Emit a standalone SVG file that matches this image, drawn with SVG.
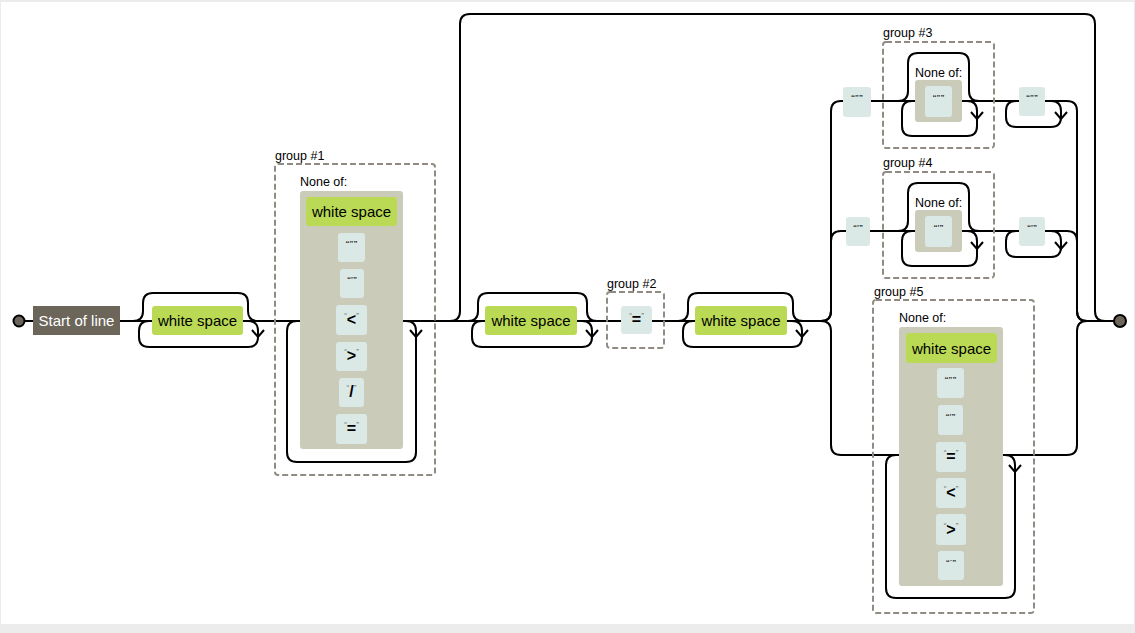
<svg xmlns="http://www.w3.org/2000/svg" xmlns:xlink="http://www.w3.org/1999/xlink" width="1135" height="633" viewBox="0 0 1135 633">
<style>
.ln{fill:none;stroke:#000;stroke-width:2;stroke-linejoin:round}
.grp{fill:none;stroke:#908c83;stroke-width:2;stroke-dasharray:6,3}
.esc{fill:#bada55}
.lit{fill:#dae9e5}
.cc{fill:#cbcbba}
.anc{fill:#6b6659}
.t{font-family:"Liberation Sans",Arial,sans-serif;font-size:15px;fill:#000}
.lbl{font-family:"Liberation Sans",Arial,sans-serif;font-size:12.5px;fill:#000}
.q{font-size:8px;fill:#666}
.c{font-size:16px;fill:#000;font-weight:bold}
.tiny{font-family:"Liberation Sans",Arial,sans-serif;font-size:8px;font-weight:bold;fill:#333}
.pt{fill:#6b6659;stroke:#000;stroke-width:2}
</style>
<defs>
<path id="arr" d="M-6,-4 L0,3 L6,-4" fill="none" stroke="#000" stroke-width="2"/>
</defs>
<rect x="0" y="0" width="1135" height="633" fill="#ececec"/>
<rect x="1" y="2" width="1133" height="622" fill="#fff"/>

<g id="connectors">
<path class="ln" d="M24,321 H821"/>
<path class="ln" d="M1087,321 H1114"/>
<path class="ln" d="M133,321 q10,0 10,-10 V303 q0,-10 10,-10 H238 q10,0 10,10 V311 q0,10 10,10"/>
<path class="ln" d="M248,321 q10,0 10,10 V337 q0,10 -10,10 H149 q-10,0 -10,-10 V331 q0,-10 10,-10"/>
<use xlink:href="#arr" x="258" y="334"/>
<path class="ln" d="M406,321 q10,0 10,10 V452 q0,10 -10,10 H297 q-10,0 -10,-10 V331 q0,-10 10,-10"/>
<use xlink:href="#arr" x="416" y="334"/>
<path class="ln" d="M450,321 q10,0 10,-10 V24 q0,-10 10,-10 H1085 q10,0 10,10 V311 q0,10 10,10"/>
<path class="ln" d="M468,321 q10,0 10,-10 V303 q0,-10 10,-10 H577 q10,0 10,10 V311 q0,10 10,10"/>
<path class="ln" d="M582,321 q10,0 10,10 V337 q0,10 -10,10 H482 q-10,0 -10,-10 V331 q0,-10 10,-10"/>
<use xlink:href="#arr" x="592" y="334"/>
<path class="ln" d="M678,321 q10,0 10,-10 V303 q0,-10 10,-10 H783 q10,0 10,10 V311 q0,10 10,10"/>
<path class="ln" d="M792,321 q10,0 10,10 V337 q0,10 -10,10 H693 q-10,0 -10,-10 V331 q0,-10 10,-10"/>
<use xlink:href="#arr" x="802" y="334"/>
<path class="ln" d="M821,321 q10,0 10,-10 V111 q0,-10 10,-10 H843"/>
<path class="ln" d="M821,321 q10,0 10,-10 V241 q0,-10 10,-10 H846"/>
<path class="ln" d="M821,321 q10,0 10,10 V445 q0,10 10,10 H899"/>
<path class="ln" d="M1045,101 H1067 q10,0 10,10 V311 q0,10 10,10"/>
<path class="ln" d="M1045,231 H1067 q10,0 10,10 V311 q0,10 10,10"/>
<path class="ln" d="M1003,455 H1067 q10,0 10,-10 V331 q0,-10 10,-10"/>
<path class="ln" d="M871,101 H1019"/>
<path class="ln" d="M898,101 q10,0 10,-10 V63 q0,-10 10,-10 H959 q10,0 10,10 V91 q0,10 10,10"/>
<path class="ln" d="M967,101 q10,0 10,10 V126 q0,10 -10,10 H912 q-10,0 -10,-10 V111 q0,-10 10,-10"/>
<use xlink:href="#arr" x="977" y="116"/>
<path class="ln" d="M1051,101 q10,0 10,10 V117 q0,10 -10,10 H1016 q-10,0 -10,-10 V111 q0,-10 10,-10"/>
<use xlink:href="#arr" x="1061" y="116"/>
<path class="ln" d="M870,231 H1019"/>
<path class="ln" d="M898,231 q10,0 10,-10 V193 q0,-10 10,-10 H959 q10,0 10,10 V221 q0,10 10,10"/>
<path class="ln" d="M967,231 q10,0 10,10 V256 q0,10 -10,10 H912 q-10,0 -10,-10 V241 q0,-10 10,-10"/>
<use xlink:href="#arr" x="977" y="246"/>
<path class="ln" d="M1051,231 q10,0 10,10 V247 q0,10 -10,10 H1016 q-10,0 -10,-10 V241 q0,-10 10,-10"/>
<use xlink:href="#arr" x="1061" y="246"/>
<path class="ln" d="M1005,455 q10,0 10,10 V588 q0,10 -10,10 H896 q-10,0 -10,-10 V465 q0,-10 10,-10"/>
<use xlink:href="#arr" x="1015" y="469"/>
</g>

<g id="start">
<circle class="pt" cx="19" cy="321" r="5.5"/>
</g>
<g id="end">
<circle class="pt" cx="1120" cy="321" r="6"/>
</g>

<g id="anchor-start">
<rect class="anc" x="33" y="306" width="87" height="29"/>
<text class="t" x="76.5" y="326" text-anchor="middle" style="fill:#fff">Start of line</text>
</g>

<g id="ws1">
<rect class="esc" x="152" y="306" width="91" height="29" rx="3"/>
<text class="t" x="197.5" y="326" text-anchor="middle">white space</text>
</g>

<g id="group1">
<rect class="grp" x="275" y="164" width="160" height="311" rx="3"/>
<text class="lbl" x="275" y="160">group #1</text>
<text class="lbl" x="300" y="186">None of:</text>
<rect class="cc" x="300" y="191" width="103" height="258" rx="3"/>
<rect class="esc" x="306" y="197" width="91" height="29" rx="3"/>
<text class="t" x="351.5" y="217" text-anchor="middle">white space</text>
<rect class="lit" x="338" y="233" width="27" height="29" rx="3"/>
<text class="tiny" x="351.5" y="246" text-anchor="middle">“"”</text>
<rect class="lit" x="340" y="269" width="24" height="29" rx="3"/>
<text class="tiny" x="352" y="282" text-anchor="middle">“'”</text>
<rect class="lit" x="336" y="305" width="31" height="30" rx="3"/>
<text class="t" x="351.5" y="325" text-anchor="middle"><tspan class="q" dy="-7">“</tspan><tspan class="c" dy="7">&lt;</tspan><tspan class="q" dy="-7">”</tspan></text>
<rect class="lit" x="336" y="342" width="31" height="29" rx="3"/>
<text class="t" x="351.5" y="361" text-anchor="middle"><tspan class="q" dy="-7">“</tspan><tspan class="c" dy="7">&gt;</tspan><tspan class="q" dy="-7">”</tspan></text>
<rect class="lit" x="339" y="378" width="25" height="29" rx="3"/>
<text class="t" x="351.5" y="397" text-anchor="middle"><tspan class="q" dy="-7">“</tspan><tspan class="c" dy="7">/</tspan><tspan class="q" dy="-7">”</tspan></text>
<rect class="lit" x="336" y="414" width="31" height="30" rx="3"/>
<text class="t" x="351.5" y="434" text-anchor="middle"><tspan class="q" dy="-7">“</tspan><tspan class="c" dy="7">=</tspan><tspan class="q" dy="-7">”</tspan></text>
</g>

<g id="ws2">
<rect class="esc" x="485" y="306" width="92" height="29" rx="3"/>
<text class="t" x="531" y="326" text-anchor="middle">white space</text>
</g>

<g id="group2">
<rect class="grp" x="607" y="292" width="57" height="56" rx="3"/>
<text class="lbl" x="607" y="288">group #2</text>
<rect class="lit" x="621" y="306" width="31" height="28" rx="3"/>
<text class="t" x="636.5" y="325" text-anchor="middle"><tspan class="q" dy="-7">“</tspan><tspan class="c" dy="7">=</tspan><tspan class="q" dy="-7">”</tspan></text>
</g>

<g id="ws3">
<rect class="esc" x="695" y="306" width="92" height="29" rx="3"/>
<text class="t" x="741" y="326" text-anchor="middle">white space</text>
</g>

<g id="lit-dq-open">
<rect class="lit" x="843" y="87" width="28" height="30" rx="3"/>
<text class="tiny" x="857" y="100" text-anchor="middle">“"”</text>
</g>

<g id="group3">
<rect class="grp" x="883" y="42" width="111" height="106" rx="3"/>
<text class="lbl" x="883" y="37">group #3</text>
<text class="lbl" x="915" y="77">None of:</text>
<rect class="cc" x="915" y="80" width="47" height="42" rx="3"/>
<rect class="lit" x="925" y="86" width="27" height="31" rx="3"/>
<text class="tiny" x="938.5" y="100" text-anchor="middle">“"”</text>
</g>

<g id="lit-dq-close">
<rect class="lit" x="1019" y="87" width="26" height="29" rx="3"/>
<text class="tiny" x="1032" y="100" text-anchor="middle">“"”</text>
</g>

<g id="lit-sq-open">
<rect class="lit" x="846" y="217" width="24" height="29" rx="3"/>
<text class="tiny" x="858" y="230" text-anchor="middle">“'”</text>
</g>

<g id="group4">
<rect class="grp" x="883" y="172" width="111" height="106" rx="3"/>
<text class="lbl" x="883" y="167">group #4</text>
<text class="lbl" x="915" y="207">None of:</text>
<rect class="cc" x="915" y="210" width="47" height="42" rx="3"/>
<rect class="lit" x="925" y="216" width="27" height="31" rx="3"/>
<text class="tiny" x="938.5" y="230" text-anchor="middle">“'”</text>
</g>

<g id="lit-sq-close">
<rect class="lit" x="1019" y="217" width="26" height="29" rx="3"/>
<text class="tiny" x="1032" y="230" text-anchor="middle">“'”</text>
</g>

<g id="group5">
<rect class="grp" x="873" y="300" width="161" height="313" rx="3"/>
<text class="lbl" x="874" y="296">group #5</text>
<text class="lbl" x="899" y="322">None of:</text>
<rect class="cc" x="899" y="327" width="104" height="259" rx="3"/>
<rect class="esc" x="906" y="333" width="91" height="30" rx="3"/>
<text class="t" x="951.5" y="354" text-anchor="middle">white space</text>
<rect class="lit" x="937" y="368" width="27" height="30" rx="3"/>
<text class="tiny" x="950.5" y="382" text-anchor="middle">“"”</text>
<rect class="lit" x="938" y="405" width="25" height="30" rx="3"/>
<text class="tiny" x="950.5" y="419" text-anchor="middle">“'”</text>
<rect class="lit" x="936" y="442" width="30" height="30" rx="3"/>
<text class="t" x="951" y="462" text-anchor="middle"><tspan class="q" dy="-7">“</tspan><tspan class="c" dy="7">=</tspan><tspan class="q" dy="-7">”</tspan></text>
<rect class="lit" x="936" y="478" width="30" height="30" rx="3"/>
<text class="t" x="951" y="498" text-anchor="middle"><tspan class="q" dy="-7">“</tspan><tspan class="c" dy="7">&lt;</tspan><tspan class="q" dy="-7">”</tspan></text>
<rect class="lit" x="936" y="514" width="30" height="31" rx="3"/>
<text class="t" x="951" y="535" text-anchor="middle"><tspan class="q" dy="-7">“</tspan><tspan class="c" dy="7">&gt;</tspan><tspan class="q" dy="-7">”</tspan></text>
<rect class="lit" x="938" y="551" width="26" height="29" rx="3"/>
<text class="tiny" x="951" y="565" text-anchor="middle">“`”</text>
</g>
</svg>
